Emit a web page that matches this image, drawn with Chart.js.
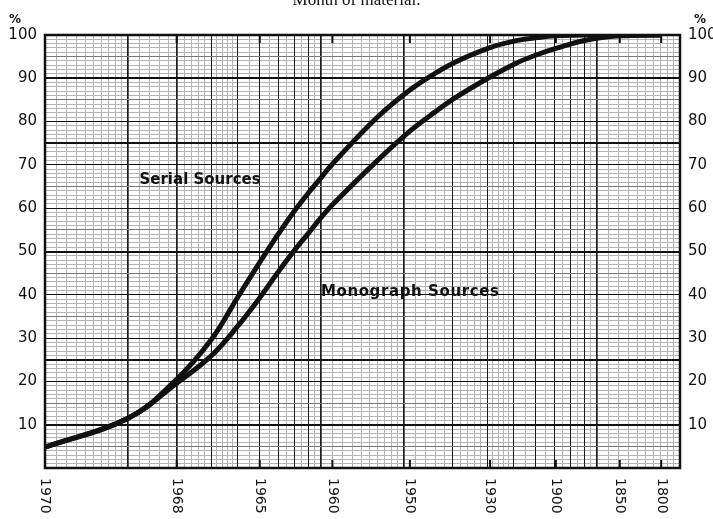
<!DOCTYPE html>
<html>
<head>
<meta charset="utf-8">
<script src="https://cdn.jsdelivr.net/npm/chart.js@4/dist/chart.umd.min.js"></script>
<style>
  html, body { margin: 0; padding: 0; background: #fff; overflow: hidden; }
  #wrap { position: relative; width: 713px; height: 519px; }
  #wrap canvas { position: absolute; left: 0; top: 0; }
  #cap { position: absolute; left: 0; right: 0; top: -10px; text-align: center;
         font: 17px "Liberation Serif", serif; color: #111; }
</style>
</head>
<body>
<div id="wrap">
  <canvas id="c" width="713" height="519"></canvas>
  <div id="cap">Month of material.</div>
</div>
<script>
// Cumulative share of cited material, by year of publication (back from 1970)
const years = [1970, 1969, 1968, 1967, 1966, 1965, 1964, 1963, 1962, 1961, 1960,
               1955, 1950, 1945, 1940, 1930, 1920, 1910, 1900, 1880, 1850, 1800];
const serialSources = [4.8, 11.5, 20.5, 29.6, 39.5, 47.5, 54, 59.3, 63.5, 67, 70.2,
                       81, 87.3, 91.2, 93.9, 97.1, 98.7, 99.4, 99.8, 100, 100, 100];
const monographSources = [4.8, 11.5, 19.6, 25.9, 32.8, 39.3, 45.3, 50.2, 54.2, 57.8, 60.8,
                          71, 77.8, 82.3, 85.7, 90.3, 93.5, 95.5, 96.9, 98.8, 99.8, 100];

// Year labels along the bottom of the log paper
const yearLabels = [1970, 1968, 1965, 1960, 1950, 1930, 1900, 1850, 1800];
const percentTicks = [10, 20, 30, 40, 50, 60, 70, 80, 90, 100];

// Log axis runs on (1971 - year), i.e. 1 at 1970 up to 200
const BASE_YEAR = 1971;
const toAge = y => BASE_YEAR - y;
const LOG_MIN = 1, LOG_MAX = 200;

// Log-paper rulings
const majorRulings = [1, 2, 3, 4, 5, 6, 7, 8, 9, 10, 20, 30, 40, 50, 60, 70, 80, 90, 100, 200];
const heavyRulings = [2, 3, 10, 20, 100];
const minorRulings = [];
function addMinor(from, to, step) {
  for (let v = from + step; v < to - 1e-9; v += step) {
    const r = Math.round(v * 100) / 100;
    if (!majorRulings.includes(r)) minorRulings.push(r);
  }
}
addMinor(1, 2, 0.1); addMinor(2, 5, 0.2); addMinor(5, 10, 0.5);
addMinor(10, 20, 1); addMinor(20, 50, 2); addMinor(50, 100, 5); addMinor(100, 200, 10);

const heavyPercent = [10, 25, 50, 75, 90];

const pts = vals => years.map((y, i) => ({ x: toAge(y), y: vals[i] }));

Chart.defaults.font.family = '"DejaVu Sans", sans-serif';
Chart.defaults.color = '#111';

// Frame, inward year ticks, rotated year labels, % marks and curve names
const paperPlugin = {
  id: 'paper',
  afterDraw(chart) {
    const { ctx, chartArea: a } = chart;
    const xs = chart.scales.x, ys = chart.scales.y;
    ctx.save();
    ctx.strokeStyle = '#111';
    ctx.lineWidth = 2.5;
    ctx.strokeRect(a.left, a.top, a.right - a.left, a.bottom - a.top);

    ctx.lineWidth = 2;
    ctx.fillStyle = '#111';
    ctx.font = '14px "DejaVu Sans", sans-serif';
    yearLabels.forEach(yr => {
      const px = xs.getPixelForValue(toAge(yr));
      ctx.beginPath();
      ctx.moveTo(px, a.bottom); ctx.lineTo(px, a.bottom - 8);
      ctx.moveTo(px, a.top); ctx.lineTo(px, a.top + 8);
      ctx.stroke();
      ctx.save();
      ctx.translate(px, a.bottom + 10);
      ctx.rotate(Math.PI / 2);
      ctx.textAlign = 'left';
      ctx.textBaseline = 'middle';
      ctx.fillText(String(yr), 0, 0);
      ctx.restore();
    });

    ctx.font = 'bold 12px "DejaVu Sans", sans-serif';
    ctx.textAlign = 'center';
    ctx.textBaseline = 'middle';
    ctx.fillText('%', a.left - 30, a.top - 15);
    ctx.fillText('%', a.right + 20, a.top - 15);

    ctx.textAlign = 'left';
    ctx.font = 'bold 15px "DejaVu Sans", sans-serif';
    ctx.fillText('Serial Sources', xs.getPixelForValue(2.2), ys.getPixelForValue(66.5));
    ctx.font = 'bold 15px "DejaVu Sans", sans-serif';
    if ('letterSpacing' in ctx) ctx.letterSpacing = '0.6px';
    ctx.fillText('Monograph Sources', xs.getPixelForValue(10), ys.getPixelForValue(40.6));
    ctx.restore();
  }
};

const hidden = { display: false };

new Chart(document.getElementById('c'), {
  type: 'line',
  data: {
    datasets: [
      { label: 'Serial Sources', data: pts(serialSources), xAxisID: 'x', yAxisID: 'y',
        borderColor: '#111', borderWidth: 5, pointRadius: 0, fill: false, tension: 0.4 },
      { label: 'Monograph Sources', data: pts(monographSources), xAxisID: 'x', yAxisID: 'y',
        borderColor: '#111', borderWidth: 5, pointRadius: 0, fill: false, tension: 0.4 }
    ]
  },
  options: {
    responsive: false,
    animation: false,
    layout: { padding: { top: 35, left: 0, right: 0, bottom: 0 } },
    plugins: { legend: hidden, tooltip: { enabled: false }, title: hidden },
    scales: {
      xMinor: {
        type: 'logarithmic', position: 'bottom', min: LOG_MIN, max: LOG_MAX, z: -1,
        afterBuildTicks: s => { s.ticks = minorRulings.map(v => ({ value: v })); },
        afterFit: s => { s.height = 0; },
        ticks: { display: false, autoSkip: false },
        border: { display: false },
        grid: { drawTicks: false, color: '#b4b4b4', lineWidth: 1, borderDash: [1, 3] }
      },
      yMinor: {
        type: 'linear', position: 'left', min: 0, max: 100, z: -1,
        ticks: { display: false, stepSize: 1, autoSkip: false },
        afterFit: s => { s.width = 0; },
        border: { display: false },
        grid: { drawTicks: false, color: '#b4b4b4', lineWidth: 1, borderDash: [1, 3] }
      },
      x: {
        type: 'logarithmic', position: 'bottom', min: LOG_MIN, max: LOG_MAX,
        afterBuildTicks: s => { s.ticks = majorRulings.map(v => ({ value: v })); },
        afterFit: s => { s.height = 51; },
        ticks: { display: false, autoSkip: false },
        border: { display: false },
        grid: {
          drawTicks: false,
          color: '#1a1a1a',
          lineWidth: c => heavyRulings.includes(c.tick && c.tick.value) ? 1.7 : 1
        }
      },
      y: {
        type: 'linear', position: 'left', min: 0, max: 100,
        afterBuildTicks: s => {
          const t = [];
          for (let v = 0; v <= 100; v += 5) t.push({ value: v });
          s.ticks = t;
        },
        afterFit: s => { s.width = 45; },
        ticks: {
          autoSkip: false, padding: 8, color: '#111',
          font: { size: 15 },
          callback: v => percentTicks.includes(v) ? String(v) : ''
        },
        border: { display: false },
        grid: {
          drawTicks: false,
          color: c => (c.tick && c.tick.value % 10 === 0) || heavyPercent.includes(c.tick && c.tick.value) ? '#111' : '#777',
          lineWidth: c => {
            const v = c.tick && c.tick.value;
            if (heavyPercent.includes(v)) return 2;
            return v % 10 === 0 ? 1.1 : 1;
          },
          borderDash: c => {
            const v = c.tick && c.tick.value;
            return (v % 10 === 0 || heavyPercent.includes(v)) ? [] : [4, 2];
          }
        }
      },
      yRight: {
        type: 'linear', position: 'right', min: 0, max: 100,
        afterBuildTicks: s => { s.ticks = percentTicks.map(v => ({ value: v })); },
        afterFit: s => { s.width = 33; },
        ticks: { autoSkip: false, padding: 8, color: '#111', font: { size: 15 } },
        border: { display: false },
        grid: { drawOnChartArea: false, drawTicks: false }
      }
    }
  },
  plugins: [paperPlugin]
});
</script>
</body>
</html>
